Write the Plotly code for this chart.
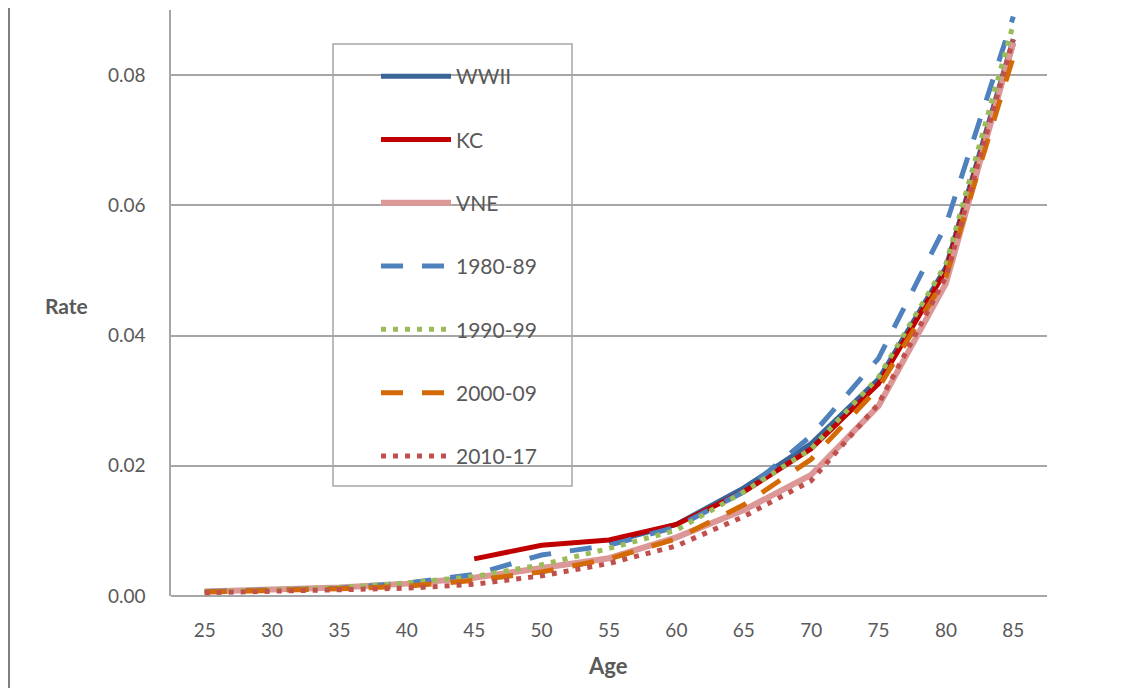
import plotly.graph_objects as go

ages = ["25", "30", "35", "40", "45", "50", "55", "60", "65", "70", "75", "80", "85"]

wwii = [None, None, None, None, None, None, 0.0082, 0.0110, 0.0166, 0.0234, 0.0333, 0.0505, 0.0855]
kc = [None, None, None, None, 0.0057, 0.0078, 0.0086, 0.0110, 0.0160, 0.0226, 0.0326, 0.0500, 0.0848]
vne = [0.0007, 0.0009, 0.0013, 0.0019, 0.0028, 0.0043, 0.0058, 0.0090, 0.0132, 0.0186, 0.0292, 0.0480, 0.0850]
y1980 = [0.0007, 0.0009, 0.0012, 0.0020, 0.0033, 0.0063, 0.0078, 0.0106, 0.0160, 0.0246, 0.0365, 0.0570, 0.0890]
y1990 = [0.0006, 0.0009, 0.0013, 0.0020, 0.0030, 0.0048, 0.0073, 0.0101, 0.0160, 0.0226, 0.0336, 0.0510, 0.0878]
y2000 = [0.0006, 0.0008, 0.0011, 0.0015, 0.0024, 0.0037, 0.0057, 0.0088, 0.0140, 0.0210, 0.0320, 0.0490, 0.0828]
y2010 = [0.0005, 0.0007, 0.0009, 0.0012, 0.0018, 0.0031, 0.0050, 0.0077, 0.0122, 0.0177, 0.0295, 0.0490, 0.0855]

series_names = ["WWII", "KC", "VNE", "1980-89", "1990-99", "2000-09", "2010-17"]
series_values = [wwii, kc, vne, y1980, y1990, y2000, y2010]
colors = ["#3B6497", "#C00000", "#DC9896", "#4F81BD", "#9BBB59", "#D46A06", "#C0504D"]
widths = [5, 5, 6, 5, 5, 5, 5]
dashes = ["solid", "solid", "solid", "22px,19px", "5px,7px", "22px,19px", "5px,7px"]

fig = go.Figure()
for i, (name, vals) in enumerate(zip(series_names, series_values)):
    fig.add_trace(go.Scatter(
        x=ages, y=vals, name=name, mode="lines",
        line=dict(color=colors[i], width=widths[i], dash=dashes[i]),
        legendgroup=f"g{i}", connectgaps=False,
    ))

grey = "#A6A6A6"
txt = "#595959"
font_family = "Lato, 'Open Sans', sans-serif"

# plot area in figure pixels
L, R, T, B = 163, 86, 2, 100
PW, PH = 1125 - L - R, 688 - T - B


def px(xf):
    return (xf - L) / PW


def py(yf):
    return (688 - B - yf) / PH


fig.update_layout(
    width=1125, height=688,
    margin=dict(l=L, r=R, t=T, b=B),
    paper_bgcolor="white", plot_bgcolor="white",
    font=dict(family=font_family, size=18, color=txt),
    showlegend=True,
    legend=dict(
        x=px(368), y=py(48), xanchor="left", yanchor="top",
        bgcolor="rgba(0,0,0,0)", borderwidth=0,
        traceorder="grouped", tracegroupgap=33,
        font=dict(size=21, color=txt), itemwidth=70,
    ),
    xaxis=dict(
        type="category", range=[-0.5, 12.5],
        showgrid=False, showline=False, zeroline=False,
        ticks="", tickfont=dict(size=19, color=txt),
        ticklabelstandoff=21,
    ),
    yaxis=dict(
        range=[0, 0.09], tickvals=[0, 0.02, 0.04, 0.06, 0.08],
        ticktext=["0.00", "0.02", "0.04", "0.06", "0.08"],
        showgrid=True, gridcolor=grey, gridwidth=1.5,
        showline=True, linecolor=grey, linewidth=1.5,
        zeroline=True, zerolinecolor=grey, zerolinewidth=1.5,
        ticks="", tickfont=dict(size=19, color=txt),
        ticklabelstandoff=20,
    ),
    shapes=[
        dict(type="rect", xref="paper", yref="paper",
             x0=px(325), x1=px(564), y0=py(478), y1=py(36),
             line=dict(color=grey, width=1.5), fillcolor="rgba(0,0,0,0)", layer="above"),
        dict(type="line", xref="paper", yref="paper",
             x0=px(1), x1=px(1), y0=py(688), y1=py(0),
             line=dict(color="#808080", width=2)),
    ],
    annotations=[
        dict(text="<b>Rate</b>", xref="paper", yref="paper",
             x=px(58), y=py(297), showarrow=False,
             font=dict(size=21, color=txt), xanchor="center", yanchor="middle"),
        dict(text="<b>Age</b>", xref="paper", yref="paper",
             x=px(600), y=py(657), showarrow=False,
             font=dict(size=22, color=txt), xanchor="center", yanchor="middle"),
    ],
)

fig.write_html("out.html")
